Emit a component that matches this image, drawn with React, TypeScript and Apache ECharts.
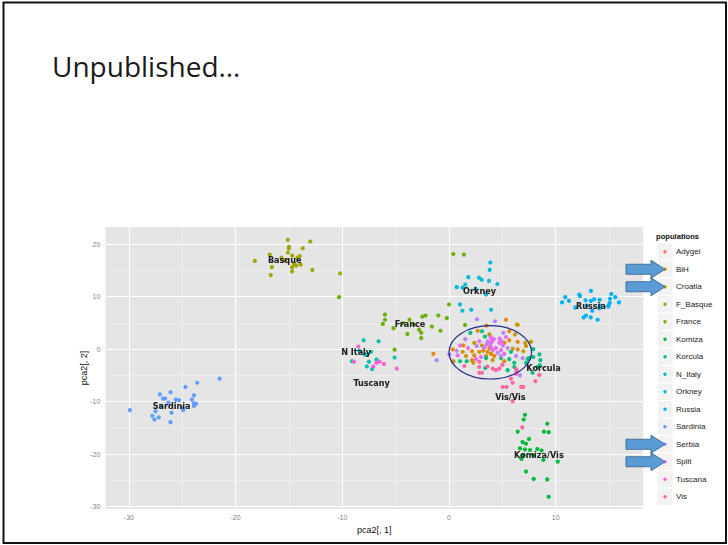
import React, { useEffect, useRef } from "react";
import * as echarts from "echarts";

const populations = ["Adygei", "BiH", "Croatia", "F_Basque", "France", "Komiza", "Korcula", "N_Italy", "Orkney", "Russia", "Sardinia", "Serbia", "Split", "Tuscana", "Vis"];
const popColors = ["#F8766D", "#E58700", "#C99800", "#A3A500", "#6BB100", "#00BA38", "#00BF7D", "#00C0AF", "#00BCD8", "#00B0F6", "#619CFF", "#B983FF", "#E76BF3", "#FD61D1", "#FF67A4"];

const adygei: number[][] = [];
const bih = [[3.5,4.5],[5.65,3.4],[2.69,3.5],[5.65,1.7],[5.18,1.2],[6.44,1.4],[1.34,0.7],[3.78,0.2],[6.44,-0.04],[0.35,-0.04],[2.16,-0.4],[3.22,-0.3],[3.94,-0.9],[7.47,-1.7],[2.37,-1.2],[4.25,-1.3],[2.16,-2.1],[5.18,-2.3],[-1.47,-0.9],[5.34,5.6]];
const croatia = [[6.37,4.7],[6.19,2.8],[3.78,2.8],[2.37,1.2],[7.15,1.2],[7.69,1.4],[3.09,0.7],[5.97,0.1],[7.22,0.6],[1.28,-0.5],[2.84,-0.5],[3.62,-0.5],[6.97,-0.4],[1.59,-1.3],[3.47,-1.3],[0.41,-2.3],[4.09,-2.1],[2.28,-2.6],[6.44,4.6]];
const fBasque = [[-18.2,16.8],[-16.8,18.0],[-16.6,15.6],[-16.7,14.1],[-15.1,20.8],[-15.0,19.5],[-15.0,19.2],[-15.1,18.4],[-14.7,17.8],[-14.7,15.6],[-14.7,14.8],[-14.5,16.2],[-14.3,15.9],[-14.2,17.4],[-14.0,17.7],[-13.9,16.1],[-13.7,19.2],[-13.0,20.5],[-12.8,15.1],[-15.7,17.4],[-15.4,16.9],[-10.2,14.4]];
const france = [[-10.3,9.9],[-6.0,6.6],[-6.0,5.6],[-6.2,4.8],[-5.2,4.0],[-5.1,-0.1],[-3.7,5.6],[-3.9,2.9],[-2.5,6.2],[-2.2,6.4],[-2.8,3.7],[-2.6,3.1],[-2.6,2.1],[-1.6,4.3],[-1.0,6.4],[-0.8,3.5],[-0.2,5.9],[0.0,8.5],[0.4,18.1],[1.4,18.0],[1.5,4.6],[-4.3,4.9],[-3.3,4.7]];
const komiza = [[7.12,-12.5],[7.0,-13.4],[9.21,-14.2],[6.44,-15.7],[8.9,-15.7],[9.34,-15.8],[7.5,-17.1],[6.9,-17.7],[7.22,-18.0],[6.65,-18.9],[7.12,-19.1],[7.59,-19.2],[8.28,-19.0],[8.68,-19.3],[6.78,-20.9],[8.84,-21.1],[10.19,-21.4],[7.22,-23.3],[7.94,-24.7],[9.21,-24.8],[9.34,-28.1],[7.0,-20.2],[7.9,-20.2]];
const korcula = [[3.09,3.4],[3.37,2.4],[5.81,-0.5],[8.47,-1.0],[7.9,-1.5],[1.03,-2.3],[1.66,-2.3],[3.47,-1.7],[4.87,-1.7],[5.65,-1.9],[6.12,-2.6],[7.37,-1.9],[8.56,-2.1],[3.4,-3.6],[5.5,-4.0],[6.12,-3.4],[7.84,-4.5],[8.31,-3.4],[7.22,-2.6],[7.9,0.0],[7.53,-1.7],[8.5,-3.1],[2.0,3.1]];
const nItaly = [[-8.0,1.7],[-6.6,1.5],[-7.3,-0.5],[-7.9,-1.0],[-7.7,-1.1],[-9.1,-2.3],[-7.5,-2.4],[-6.8,-2.0],[-7.7,-3.3],[-7.2,-3.8],[-5.1,-1.6],[-8.4,-0.3]];
const orkney = [[3.87,16.5],[3.81,15.1],[1.81,13.7],[2.81,13.6],[3.06,13.2],[3.75,13.0],[1.53,12.3],[0.72,11.8],[1.28,11.7],[4.53,12.4],[3.47,10.4],[2.5,11.5],[1.03,8.5],[1.25,7.3],[2.09,7.5],[3.94,7.5]];
const russia = [[10.6,8.9],[10.9,9.9],[11.25,9.2],[11.84,7.9],[12.2,10.4],[12.28,10.1],[13.3,11.1],[12.8,9.3],[13.3,9.2],[13.6,9.5],[14.12,9.4],[14.15,8.3],[13.43,7.3],[14.1,7.8],[12.62,6.05],[12.84,6.4],[13.28,6.05],[13.93,5.6],[14.96,8.3],[15.09,9.6],[15.06,8.8],[15.21,10.5],[15.59,9.9],[15.93,8.9],[14.93,8.1],[12.9,8.3]];
const sardinia = [[-29.9,-11.6],[-27.8,-12.7],[-27.6,-13.4],[-27.5,-11.8],[-27.2,-13.0],[-27.1,-8.6],[-26.8,-9.4],[-26.6,-9.4],[-26.1,-8.2],[-26.1,-13.9],[-26.0,-12.1],[-25.6,-9.6],[-25.3,-9.7],[-24.9,-11.6],[-24.7,-7.2],[-24.1,-9.6],[-23.9,-8.8],[-23.9,-10.3],[-23.9,-10.8],[-23.7,-10.4],[-23.6,-6.4],[-21.5,-5.6],[-27.0,-10.8],[-26.3,-10.2],[-25.0,-11.2]];
const serbia = [[2.62,5.7],[4.31,5.3],[5.09,3.1],[1.53,1.9],[3.62,1.5],[2.6,0.6],[3.53,0.9],[5.5,0.2],[0.72,-0.3],[4.56,-0.7],[0.03,-1.0],[4.87,-1.3],[6.28,-1.3],[6.9,-1.7],[6.65,-5.0],[-1.15,-2.1]];
const split = [[5.34,2.3],[2.84,1.5],[4.03,1.4],[4.72,1.2],[1.03,0.7],[1.78,0.2],[4.4,0.2],[4.87,-0.2],[5.18,-0.9],[0.81,-1.2],[3.0,-1.5],[2.53,-1.9],[4.0,1.9],[3.9,2.3],[4.2,1.9],[3.3,0.3],[3.85,1.0],[3.95,0.4],[4.1,-0.2],[4.75,2.0],[4.95,1.5],[5.05,0.7]];
const tuscana = [[-8.5,0.5],[-8.9,-2.4],[-6.8,-2.6],[-6.5,-2.4],[-7.1,-3.3],[-6.1,-2.8],[-4.9,-3.7]];
const vis = [[2.84,-2.4],[1.44,-3.2],[2.84,-3.4],[4.09,-3.7],[4.4,-4.0],[4.72,-3.7],[6.34,-4.0],[6.28,-4.7],[2.84,-4.5],[3.09,-4.5],[5.03,-7.2],[5.4,-7.2],[5.97,-6.4],[5.81,-5.6],[6.75,-7.2],[6.97,-7.2],[5.97,-9.9],[6.87,-14.9],[8.09,-6.1],[8.47,-4.9],[6.28,-3.8],[3.6,-3.3],[5.0,-3.0]];

const popData = [adygei, bih, croatia, fBasque, france, komiza, korcula, nItaly, orkney, russia, sardinia, serbia, split, tuscana, vis];

const xTicks = [-30, -20, -10, 0, 10];
const yTicks = [-30, -20, -10, 0, 10, 20];
const xMinor = [-25, -15, -5, 5, 15];
const yMinor = [-25, -15, -5, 5, 15];

const clusterNames = ["Basque", "Sardinia", "N Italy", "Tuscany", "France", "Orkney", "Russia", "Korcula", "Vis/Vis", "Komiza/Vis"];
const clusterPos = [[-15.4, 17.0], [-26.0, -10.9], [-8.7, -0.5], [-7.25, -6.4], [-3.65, 4.8], [2.86, 11.0], [13.3, 8.3], [8.86, -3.65], [5.75, -9.2], [8.42, -20.1]];

const highlighted = ["BiH", "Croatia", "Serbia", "Split"];
const ellipseCenter = [3.87, -0.6];
const ellipseRadii = [3.87, 5.08];

export default function App() {
  const ref = useRef<HTMLDivElement>(null);
  useEffect(() => {
    if (!ref.current) return;
    const chart = echarts.init(ref.current, null, { renderer: "svg" });
    const axisFont = "'Liberation Sans', Arial, sans-serif";
    const gridLines = [
      ...xMinor.map((v) => ({ xAxis: v, lineStyle: { color: "#F2F2F2", width: 0.6, type: "solid" } })),
      ...yMinor.map((v) => ({ yAxis: v, lineStyle: { color: "#F2F2F2", width: 0.6, type: "solid" } })),
      ...xTicks.map((v) => ({ xAxis: v, lineStyle: { color: "#FFFFFF", width: 1.1, type: "solid" } })),
      ...yTicks.map((v) => ({ yAxis: v, lineStyle: { color: "#FFFFFF", width: 1.1, type: "solid" } })),
    ];
    const series: any[] = [
      {
        type: "scatter",
        name: "grid",
        data: [],
        z: 1,
        silent: true,
        markLine: {
          z: 1,
          silent: true,
          symbol: ["none", "none"],
          label: { show: false },
          emphasis: { disabled: true },
          data: gridLines,
        },
      },
      ...populations.map((p, i) => ({
        type: "scatter",
        name: p,
        data: popData[i],
        symbol: "circle",
        symbolSize: 4.2,
        z: 6,
        silent: true,
        itemStyle: { color: popColors[i], opacity: 1 },
      })),
      {
        type: "scatter",
        name: "labels",
        z: 10,
        silent: true,
        symbolSize: 0,
        data: clusterNames.map((n, i) => ({ name: n, value: clusterPos[i] })),
        label: {
          show: true,
          position: "inside",
          formatter: (d: any) => d.name,
          color: "#000",
          fontWeight: "bold",
          fontSize: 9,
          fontFamily: "'Liberation Sans Narrow', 'DejaVu Sans Condensed', sans-serif",
          textShadowColor: "rgba(0,0,0,0.35)",
          textShadowBlur: 1.5,
        },
      },
    ];
    chart.setOption({
      animation: false,
      grid: { left: 105.4, right: 84.8, top: 227, bottom: 35.9, show: true, backgroundColor: "#E5E5E5", borderWidth: 0 },
      xAxis: {
        type: "value",
        min: -32.2,
        max: 18.2,
        splitLine: { show: false },
        axisLine: { show: false },
        axisTick: { show: true, length: 3, lineStyle: { color: "#7f7f7f" }, customValues: xTicks },
        axisLabel: { customValues: xTicks, color: "#7f7f7f", fontSize: 7, margin: 5, fontFamily: axisFont },
        name: "pca2[, 1]",
        nameLocation: "middle",
        nameGap: 16,
        nameMoveOverlap: false,
        nameTextStyle: { color: "#111", fontSize: 9, fontFamily: axisFont },
      },
      yAxis: {
        type: "value",
        min: -30.45,
        max: 23.25,
        splitLine: { show: false },
        axisLine: { show: false },
        axisTick: { show: true, length: 3, lineStyle: { color: "#7f7f7f" }, customValues: yTicks },
        axisLabel: { customValues: yTicks, color: "#7f7f7f", fontSize: 7, margin: 5, fontFamily: axisFont },
        name: "pca2[, 2]",
        nameLocation: "middle",
        nameRotate: 90,
        nameGap: 17,
        nameMoveOverlap: false,
        nameTextStyle: { color: "#111", fontSize: 9, fontFamily: axisFont },
      },
      series,
    });

    const c = chart.convertToPixel({ gridIndex: 0 }, ellipseCenter) as number[];
    const e = chart.convertToPixel({ gridIndex: 0 }, [ellipseCenter[0] + ellipseRadii[0], ellipseCenter[1] + ellipseRadii[1]]) as number[];

    const legendTop = 243;
    const rowH = 17.5;
    const elements: any[] = [
      { type: "rect", shape: { x: 3.5, y: 2.5, width: 722.5, height: 540.5 }, style: { fill: "none", stroke: "#111", lineWidth: 2 }, z: 50 },
      { type: "text", x: 52, y: 66, style: { text: "Unpublished…", fontSize: 28, fontFamily: "'Open Sans', sans-serif", fill: "#1a1a1a", verticalAlign: "middle" } },
      { type: "text", x: 656, y: 236, style: { text: "populations", fontSize: 7.6, fontWeight: "bold", fontFamily: axisFont, fill: "#111", verticalAlign: "middle" } },
      {
        type: "ellipse",
        shape: { cx: c[0], cy: c[1], rx: e[0] - c[0], ry: c[1] - e[1] },
        style: { fill: "none", stroke: "#1E2A8C", lineWidth: 1.2 },
        z: 100,
      },
    ];
    populations.forEach((p, i) => {
      const top = legendTop + i * rowH;
      const cy = top + rowH / 2;
      elements.push({ type: "rect", shape: { x: 657, y: top, width: 16, height: rowH }, style: { fill: "#F2F2F2", stroke: "#FFFFFF", lineWidth: 1 } });
      elements.push({ type: "circle", shape: { cx: 665, cy, r: 1.7 }, style: { fill: popColors[i] } });
      elements.push({ type: "text", x: 676, y: cy, style: { text: p, fontSize: 8, fontFamily: axisFont, fill: "#1a1a1a", verticalAlign: "middle" } });
    });
    highlighted.forEach((h) => {
      const i = populations.indexOf(h);
      const cy = legendTop + i * rowH + rowH / 2;
      elements.push({
        type: "polygon",
        shape: { points: [[626, cy - 5], [651, cy - 5], [651, cy - 9], [665, cy], [651, cy + 9], [651, cy + 5], [626, cy + 5]] },
        style: { fill: "#5B9BD5", stroke: "#41719C", lineWidth: 1 },
        z: 60,
      });
    });
    chart.setOption({ graphic: { elements } });
    return () => chart.dispose();
  }, []);
  return <div ref={ref} style={{ position: "fixed", left: 0, top: 0, width: 728, height: 545, background: "#fff" }} />;
}
